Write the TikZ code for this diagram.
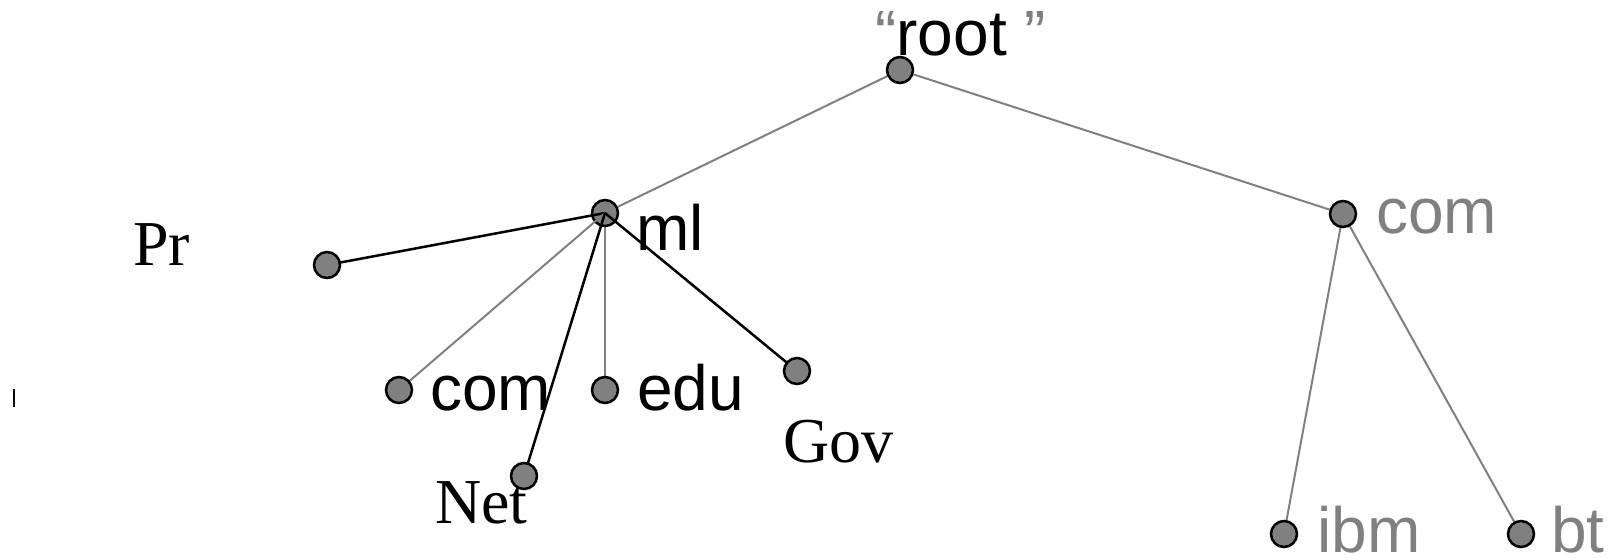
\documentclass[tikz,border=0pt]{standalone}
\usepackage{fontspec}
\setmainfont{Liberation Serif}
\setsansfont{Liberation Sans}
\pgfdeclarelayer{fg}
\pgfsetlayers{main,fg}
\definecolor{dotgray}{RGB}{128,128,128}
\definecolor{linegray}{RGB}{128,128,128}
\tikzset{
  dot/.style={circle, draw=black, line width=2.5pt, fill=dotgray, minimum size=26pt, inner sep=0pt},
  gedge/.style={draw=linegray, line width=2pt},
  bedge/.style={draw=black, line width=2.5pt},
  sans/.style={font=\sffamily\fontsize{64}{70}\selectfont, anchor=base west, inner sep=0pt},
  serif/.style={font=\rmfamily\fontsize{64}{70}\selectfont, anchor=base west, inner sep=0pt},
}
\begin{document}
\begin{tikzpicture}[x=1pt,y=-1pt]
\useasboundingbox (0,0) rectangle (1617,558);
% ml circle drawn below edges
\node[dot] (ml) at (605,213) {};
\begin{pgfonlayer}{fg}
\node[dot] (root) at (900,70) {};
\node[dot] (comr) at (1343,214) {};
\node[dot] (ibm) at (1284,534) {};
\node[dot] (bt) at (1521,534) {};
\node[dot] (pr) at (327,265) {};
\node[dot] (coml) at (399,390) {};
\node[dot] (edu) at (605,390) {};
\node[dot] (gov) at (797,371) {};
\node[dot] (net) at (524,476) {};
\end{pgfonlayer}
% edges
\draw[gedge] (root) -- (ml);
\draw[gedge] (root) -- (comr);
\draw[gedge] (comr.center) -- (ibm.center);
\draw[gedge] (comr.center) -- (bt.center);
\draw[bedge] (ml.center) -- (pr.center);
\draw[gedge] (ml.center) -- (coml.center);
\draw[bedge] (ml.center) -- (net.center);
\draw[gedge] (ml) -- (edu.center);
\draw[bedge] (ml.center) -- (gov.center);
% labels
\node[sans] (lroot) at (875,55) {{\color{dotgray}“}root {\color{dotgray}”}};
\node[sans] (lml) at (636,250) {ml};
\node[sans] (lcoml) at (430,410) {com};
\node[sans] (ledu) at (637,410) {edu};
\node[sans, text=dotgray] (lcomr) at (1376,233) {com};
\node[sans, text=dotgray] (libm) at (1317,552) {ibm};
\node[sans, text=dotgray] (lbt) at (1551,552) {bt};
\node[serif] (lpr) at (133,265) {Pr};
\node[serif] (lgov) at (783,462) {Gov};
\node[serif] (lnet) at (435,523) {Net};
% small mark at left
\coordinate (m1) at (14,389);
\coordinate (m2) at (14,407);
\draw[black, line width=2pt] (m1) -- (m2);
\end{tikzpicture}
\end{document}
